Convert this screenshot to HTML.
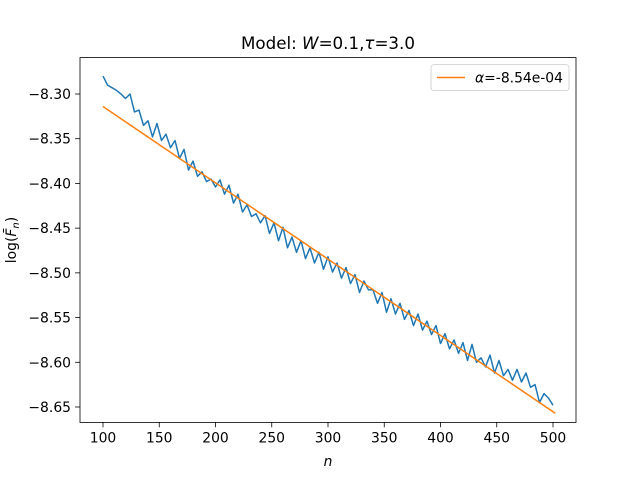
<!DOCTYPE html>
<html><head><meta charset="utf-8"><style>
body{margin:0;background:#fff}
svg text{font-family:"DejaVu Sans","Liberation Sans",sans-serif;fill:#000}
</style></head><body>
<svg id="chart" width="640" height="480" viewBox="0 0 640 480">
<rect width="640" height="480" fill="#fff"/>
<text x="328" y="49" font-size="16.7" text-anchor="middle">Model: <tspan font-style="italic">W</tspan>=0.1,<tspan font-style="italic">τ</tspan>=3.0</text>
<g id="xticks"></g><g id="yticks"></g>
<g id="plot"></g>
<rect x="80" y="57.6" width="496" height="364.8" fill="none" stroke="#000" stroke-width="0.8"/>
<text x="328" y="466" font-size="13.9" text-anchor="middle" font-style="italic">n</text>
<text transform="translate(16,240) rotate(-90)" font-size="13.9" text-anchor="middle">log(<tspan font-style="italic">F̄</tspan><tspan font-style="italic" font-size="10" dy="3">n</tspan><tspan dy="-3">)</tspan></text>
<g>
<rect x="431" y="64.6" width="138" height="26" rx="3" fill="#fff" stroke="#ccc" stroke-width="0.8"/>
<line x1="437" y1="77.5" x2="465" y2="77.5" stroke="#ff7f0e" stroke-width="1.5"/>
<text x="475" y="82.5" font-size="13.9"><tspan font-style="italic">α</tspan>=-8.54e-04</text>
</g>
</svg>
<script>
const xTicks=[100,150,200,250,300,350,400,450,500];
const yTicks=[-8.30,-8.35,-8.40,-8.45,-8.50,-8.55,-8.60,-8.65];
const nStart=100, nStep=4;
const values=[-8.280,-8.290,-8.293,-8.296,-8.300,-8.305,-8.300,-8.320,-8.318,-8.335,-8.330,-8.348,-8.333,-8.352,-8.345,-8.360,-8.352,-8.372,-8.362,-8.385,-8.375,-8.392,-8.387,-8.398,-8.395,-8.404,-8.396,-8.412,-8.402,-8.422,-8.412,-8.432,-8.424,-8.437,-8.434,-8.444,-8.436,-8.456,-8.444,-8.464,-8.449,-8.472,-8.460,-8.477,-8.464,-8.484,-8.472,-8.489,-8.477,-8.496,-8.482,-8.499,-8.489,-8.506,-8.494,-8.512,-8.502,-8.522,-8.509,-8.519,-8.519,-8.534,-8.522,-8.544,-8.529,-8.546,-8.534,-8.552,-8.542,-8.559,-8.546,-8.564,-8.554,-8.569,-8.559,-8.579,-8.568,-8.585,-8.575,-8.590,-8.578,-8.598,-8.580,-8.600,-8.595,-8.605,-8.592,-8.612,-8.598,-8.615,-8.608,-8.620,-8.608,-8.622,-8.612,-8.628,-8.625,-8.645,-8.635,-8.640,-8.648];
const fitStart=[100,-8.314];
const fitEnd=[502,-8.657];
const NS="http://www.w3.org/2000/svg";
const xs=n=>103+(n-100)*1.125;
const ys=v=>94+(-8.30-v)*894.3;
const xg=document.getElementById('xticks'),yg=document.getElementById('yticks'),pg=document.getElementById('plot');
function mk(tag,a,p){const e=document.createElementNS(NS,tag);for(const k in a)e.setAttribute(k,a[k]);p.appendChild(e);return e;}
xTicks.forEach(t=>{
 const l=mk('line',{x1:xs(t),x2:xs(t),y1:422.4,y2:427.3,stroke:'#000','stroke-width':0.8},xg);
 
 
 const tx=mk('text',{x:xs(t),y:442.5,'font-size':13.9,'text-anchor':'middle'},xg);tx.textContent=t;
 
 
});
yTicks.forEach(t=>{
 const l=mk('line',{x1:75.1,x2:80,y1:ys(t),y2:ys(t),stroke:'#000','stroke-width':0.8},yg);
 
 
 const tx=mk('text',{x:71,y:ys(t)+5,'font-size':13.9,'text-anchor':'end'},yg);tx.textContent=(t.toFixed(2)).replace('-','−');
 
 
});
const pts=values.map((v,i)=>xs(nStart+i*nStep).toFixed(1)+','+ys(v).toFixed(1)).join(' ');
const pl=mk('polyline',{points:pts,fill:'none',stroke:'#1f77b4','stroke-width':1.5,'stroke-linejoin':'round'},pg);


const fl=mk('line',{x1:xs(fitStart[0]),y1:ys(fitStart[1]),x2:xs(fitEnd[0]),y2:ys(fitEnd[1]),stroke:'#ff7f0e','stroke-width':1.5},pg);


</script>
</body></html>
